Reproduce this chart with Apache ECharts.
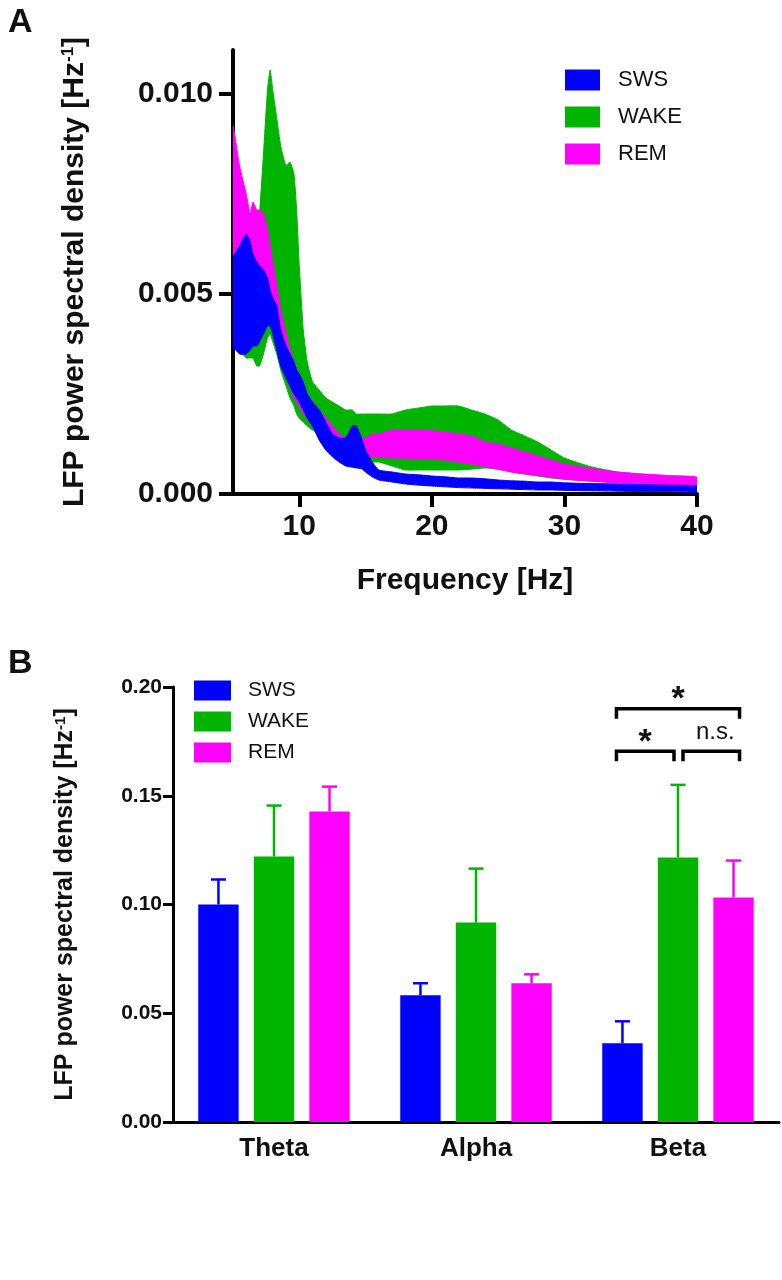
<!DOCTYPE html>
<html>
<head>
<meta charset="utf-8">
<script src="https://cdn.jsdelivr.net/npm/echarts@6/dist/echarts.min.js"></script>
<style>
html,body{margin:0;padding:0;background:#fff;}
#c{width:782px;height:1280px;}
</style>
</head>
<body>
<div id="c"></div>
<script>
// ---------- Panel A data: LFP PSD mean ± SEM band edges ----------
const freqHz = [5, 5.5, 6, 6.3, 6.5, 6.8, 7, 7.3, 7.6, 7.8, 8, 8.3, 8.6, 9, 9.3, 9.6, 9.8, 10, 10.3, 10.6, 11, 11.5, 12, 12.5, 13, 13.5, 14, 14.3, 14.7, 15, 15.5, 16, 17, 18, 19, 20, 21, 22, 23, 24, 25, 26, 27, 28, 29, 30, 32, 34, 36, 38, 40];
const wakeHi = [0.0060, 0.0060, 0.0059, 0.0059, 0.0060, 0.0063, 0.0070, 0.0085, 0.0101, 0.0106, 0.0101, 0.0094, 0.0087, 0.0082, 0.0083, 0.0080, 0.0071, 0.0057, 0.0041, 0.0033, 0.0028, 0.0026, 0.0024, 0.0023, 0.0022, 0.0021, 0.0021, 0.0020, 0.0020, 0.0020, 0.0020, 0.0020, 0.0020, 0.0021, 0.00215, 0.0022, 0.0022, 0.0022, 0.0021, 0.0020, 0.00185, 0.0016, 0.00145, 0.0013, 0.0011, 0.0009, 0.00068, 0.00055, 0.00048, 0.00043, 0.0004];
const wakeLo = [0.0039, 0.0036, 0.0034, 0.0034, 0.0034, 0.0032, 0.0032, 0.0035, 0.0039, 0.0040, 0.0038, 0.0035, 0.0031, 0.0027, 0.0024, 0.0022, 0.0020, 0.0019, 0.0018, 0.0017, 0.0016, 0.0015, 0.0014, 0.0013, 0.0012, 0.0011, 0.0010, 0.0010, 0.0009, 0.0009, 0.0008, 0.0008, 0.0007, 0.0006, 0.0006, 0.0006, 0.0006, 0.0006, 0.00062, 0.00065, 0.00062, 0.00055, 0.0005, 0.00045, 0.0004, 0.00037, 0.00032, 0.00028, 0.00025, 0.00023, 0.0002];
const remHi = [0.0092, 0.0082, 0.0075, 0.0070, 0.0073, 0.0071, 0.0071, 0.0070, 0.0066, 0.0062, 0.0058, 0.0052, 0.0046, 0.0040, 0.0036, 0.0033, 0.0031, 0.0029, 0.0027, 0.0025, 0.0023, 0.0021, 0.0019, 0.0017, 0.0015, 0.0014, 0.0014, 0.0014, 0.0014, 0.0014, 0.0015, 0.0015, 0.0016, 0.0016, 0.0016, 0.00158, 0.00155, 0.0015, 0.00145, 0.0013, 0.00125, 0.00115, 0.00105, 0.00095, 0.00085, 0.00075, 0.00064, 0.00055, 0.0005, 0.00046, 0.00042];
const remLo = [0.0060, 0.0058, 0.0056, 0.0055, 0.0054, 0.0053, 0.0052, 0.0050, 0.0047, 0.0045, 0.0043, 0.0039, 0.0035, 0.0030, 0.0027, 0.0024, 0.0023, 0.0022, 0.0020, 0.0019, 0.0017, 0.0015, 0.0014, 0.0013, 0.0012, 0.0011, 0.00105, 0.0010, 0.00098, 0.00095, 0.00093, 0.00092, 0.0009, 0.0009, 0.00088, 0.00088, 0.00085, 0.0008, 0.00075, 0.00068, 0.00062, 0.00055, 0.0005, 0.00046, 0.00042, 0.00037, 0.00032, 0.00028, 0.00025, 0.00022, 0.0002];
const swsHi = [0.0059, 0.0062, 0.0065, 0.0063, 0.0060, 0.0058, 0.0057, 0.0056, 0.0054, 0.0051, 0.0049, 0.0047, 0.0041, 0.0037, 0.0035, 0.0033, 0.0031, 0.0030, 0.0028, 0.0025, 0.0023, 0.0021, 0.0018, 0.0015, 0.0014, 0.0014, 0.0017, 0.0017, 0.0014, 0.0011, 0.0008, 0.0006, 0.00055, 0.0005, 0.00048, 0.00045, 0.00043, 0.0004, 0.0004, 0.00038, 0.00035, 0.00033, 0.00032, 0.0003, 0.0003, 0.00028, 0.00026, 0.00025, 0.00023, 0.00022, 0.0002];
const swsLo = [0.0037, 0.0035, 0.0035, 0.0036, 0.0037, 0.0037, 0.0038, 0.0040, 0.0042, 0.0042, 0.0040, 0.0036, 0.0032, 0.0029, 0.0027, 0.0025, 0.0024, 0.0023, 0.0021, 0.0019, 0.0017, 0.00135, 0.0011, 0.00093, 0.0008, 0.0007, 0.00067, 0.00065, 0.00063, 0.00055, 0.00043, 0.00035, 0.0003, 0.00025, 0.00022, 0.0002, 0.00018, 0.00016, 0.00015, 0.00014, 0.00013, 0.00012, 0.00011, 0.0001, 0.0001, 0.00009, 0.00008, 0.00007, 0.00006, 0.00006, 0.00005];
const yTicksA = [0, 0.005, 0.010];
const xTicksA = [10, 20, 30, 40];

// ---------- Panel B data: band power mean and SEM ----------
const bandNames = ['Theta', 'Alpha', 'Beta'];
const swsMean  = [0.100, 0.0583, 0.0362];
const swsSem   = [0.0115, 0.0055, 0.0101];
const wakeMean = [0.1221, 0.0917, 0.1216];
const wakeSem  = [0.0234, 0.0248, 0.0334];
const remMean  = [0.1428, 0.0638, 0.1032];
const remSem   = [0.0114, 0.0041, 0.0170];
// significance brackets (Beta band)
const bracketCat  = [2, 2, 2];
const bracketFrom = [0, 0, 1];
const bracketTo   = [2, 1, 2];
const bracketY    = [0.190, 0.1705, 0.1705];
const bracketText = ['*', '*', 'n.s.'];

const stateNames = ['SWS', 'WAKE', 'REM'];
const C = {SWS: '#0000ff', WAKE: '#00b400', REM: '#ff00ff'};
const FONT = '"Liberation Sans", Arial, Helvetica, sans-serif';
const INK = '#111';

function band(name, lo, hi, z) {
  return {
    name: name, type: 'custom', xAxisIndex: 0, yAxisIndex: 0, z: z, silent: true,
    itemStyle: {color: C[name]},
    data: freqHz.map((f, i) => [f, lo[i], hi[i]]),
    encode: {x: 0, y: [1, 2]},
    clip: true,
    renderItem(params, api) {
      if (params.dataIndex !== 0) return null;
      const top = freqHz.map((f, i) => api.coord([f, hi[i]]));
      const bot = freqHz.map((f, i) => api.coord([f, lo[i]])).reverse();
      return {type: 'polygon', shape: {points: top.concat(bot), smooth: 0.15},
              style: {fill: C[name], stroke: C[name], lineWidth: 1}};
    }
  };
}

const bandSeries = [band('WAKE', wakeLo, wakeHi, 2), band('REM', remLo, remHi, 3), band('SWS', swsLo, swsHi, 4)];

const means = [swsMean, wakeMean, remMean];
const sems = [swsSem, wakeSem, remSem];
const barSeries = stateNames.map((n, k) => ({
  name: n, type: 'bar', xAxisIndex: 1, yAxisIndex: 1,
  data: means[k], itemStyle: {color: C[n]},
  barGap: '37.5%', barCategoryGap: '25%', z: 2
}));

function barCenter(api, cat, k) {
  const c = api.coord([cat, 0]);
  const bandW = api.size([1, 0])[0];
  const bw = bandW * 0.75 / 3.75;
  return c[0] + (k - 1) * bw * 1.375;
}

const errData = [];
stateNames.forEach((n, k) => bandNames.forEach((b, i) => errData.push([i, k, means[k][i], sems[k][i]])));

const errSeries = {
  type: 'custom', xAxisIndex: 1, yAxisIndex: 1, z: 3, silent: true,
  data: errData, encode: {x: 0, y: 2},
  renderItem(params, api) {
    const cat = api.value(0), k = api.value(1), m = api.value(2), e = api.value(3);
    const x = barCenter(api, cat, k);
    const y0 = api.coord([cat, m])[1];
    const y1 = api.coord([cat, m + e])[1];
    const col = C[stateNames[k]];
    return {type: 'group', children: [
      {type: 'line', shape: {x1: x, y1: y0, x2: x, y2: y1}, style: {stroke: col, lineWidth: 2.5}},
      {type: 'line', shape: {x1: x - 7.5, y1: y1, x2: x + 7.5, y2: y1}, style: {stroke: col, lineWidth: 2.5}}
    ]};
  }
};

const brData = bracketCat.map((c, i) => [c, bracketFrom[i], bracketTo[i], bracketY[i], i]);
const bracketSeries = {
  type: 'custom', xAxisIndex: 1, yAxisIndex: 1, z: 4, silent: true,
  data: brData, encode: {x: 0, y: 3},
  renderItem(params, api) {
    const cat = api.value(0), k1 = api.value(1), k2 = api.value(2), yv = api.value(3), idx = api.value(4);
    const xa = barCenter(api, cat, k1) + (k1 === 1 ? 5 : -6);
    const xb = barCenter(api, cat, k2) + (k2 === 1 ? -4 : 6);
    const y = api.coord([cat, yv])[1];
    const leg = 10;
    const txt = bracketText[idx];
    const star = txt === '*';
    return {type: 'group', children: [
      {type: 'polyline', shape: {points: [[xa, y + leg], [xa, y], [xb, y], [xb, y + leg]]},
       style: {stroke: '#000', lineWidth: 3.5, fill: null}},
      {type: 'text', x: (xa + xb) / 2 + (star ? 0 : 4), y: star ? y + 8 : y - 7,
       style: {text: txt, fill: INK, align: 'center', verticalAlign: 'bottom',
               font: (star ? 'bold 34px ' : '24px ') + FONT}}
    ]};
  }
};

const chart = echarts.init(document.getElementById('c'), null, {renderer: 'canvas'});
chart.setOption({
  backgroundColor: '#fff',
  animation: false,
  title: [
    {text: 'A', left: 3, top: 1, textStyle: {fontSize: 34, fontWeight: 'bold', color: INK, fontFamily: FONT}},
    {text: 'B', left: 3, top: 642, textStyle: {fontSize: 34, fontWeight: 'bold', color: INK, fontFamily: FONT}}
  ],
  legend: [
    {data: stateNames, orient: 'vertical', left: 565, top: 69, padding: 0, itemWidth: 35, itemHeight: 21, itemGap: 15,
     icon: 'rect', selectedMode: false, z: 10,
     textStyle: {fontSize: 22, color: INK, fontFamily: FONT, padding: [0, 0, 0, 13]}},
    {data: stateNames, orient: 'vertical', left: 194, top: 680, padding: 0, itemWidth: 37, itemHeight: 20, itemGap: 10,
     icon: 'rect', selectedMode: false,
     textStyle: {fontSize: 21, color: INK, fontFamily: FONT, padding: [0, 0, 0, 12]}}
  ],
  grid: [
    {left: 233, top: 50, width: 464, height: 444, outerBoundsMode: 'none', containLabel: false},
    {left: 173, top: 687, width: 606, height: 435, outerBoundsMode: 'none', containLabel: false}
  ],
  xAxis: [
    {gridIndex: 0, type: 'value', min: 5, max: 40,
     splitLine: {show: false},
     axisLine: {lineStyle: {color: '#000', width: 4}},
     axisTick: {customValues: xTicksA, length: 13, lineStyle: {color: '#000', width: 4}},
     axisLabel: {customValues: xTicksA, margin: 18, fontSize: 30, fontWeight: 'bold', color: INK, fontFamily: FONT},
     name: 'Frequency [Hz]', nameLocation: 'middle', nameGap: 72,
     nameTextStyle: {fontSize: 30, fontWeight: 'bold', color: INK, fontFamily: FONT}},
    {gridIndex: 1, type: 'category', data: bandNames,
     axisLine: {lineStyle: {color: '#000', width: 3}},
     axisTick: {alignWithLabel: true, length: 10, lineStyle: {color: '#000', width: 3}},
     axisLabel: {margin: 14, fontSize: 26, fontWeight: 'bold', color: INK, fontFamily: FONT}}
  ],
  yAxis: [
    {gridIndex: 0, type: 'value', min: 0, max: 0.0111,
     splitLine: {show: false},
     axisLine: {show: true, lineStyle: {color: '#000', width: 4}},
     axisTick: {show: true, customValues: yTicksA, length: 14, lineStyle: {color: '#000', width: 4}},
     axisLabel: {customValues: yTicksA, margin: 20, fontSize: 30, fontWeight: 'bold', color: INK, fontFamily: FONT,
                 formatter: v => v.toFixed(3)},
     name: 'LFP power spectral density [Hz{sup|-1}]', nameLocation: 'middle', nameGap: 143,
     nameTextStyle: {fontSize: 30, fontWeight: 'bold', color: INK, fontFamily: FONT,
                     rich: {sup: {fontSize: 17, fontWeight: 'bold', color: INK, fontFamily: FONT, verticalAlign: 'top'}}}},
    {gridIndex: 1, type: 'value', min: 0, max: 0.2, interval: 0.05,
     splitLine: {show: false},
     axisLine: {show: true, lineStyle: {color: '#000', width: 3}},
     axisTick: {show: true, length: 10, lineStyle: {color: '#000', width: 3}},
     axisLabel: {margin: 11, fontSize: 21, fontWeight: 'bold', color: INK, fontFamily: FONT,
                 formatter: v => v.toFixed(2)},
     name: 'LFP power spectral density [Hz{sup|-1}]', nameLocation: 'middle', nameGap: 95,
     nameTextStyle: {fontSize: 25, fontWeight: 'bold', color: INK, fontFamily: FONT,
                     rich: {sup: {fontSize: 15, fontWeight: 'bold', color: INK, fontFamily: FONT, verticalAlign: 'top'}}}}
  ],
  series: bandSeries.concat(barSeries, [errSeries, bracketSeries])
});
</script>
</body>
</html>
